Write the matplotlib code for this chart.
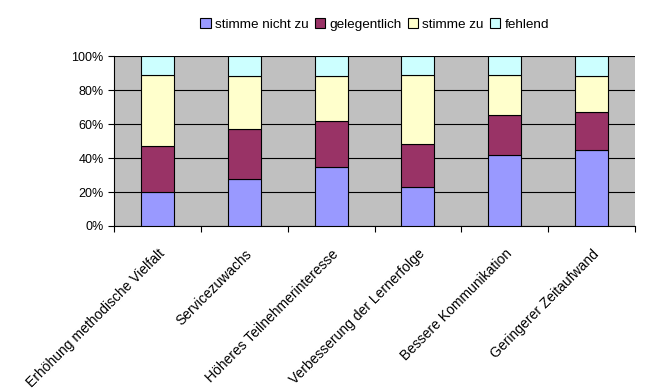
import numpy as np
import matplotlib.pyplot as plt

plt.rcParams['font.family'] = ['Liberation Sans', 'DejaVu Sans']

kategorien = ['Erhöhung methodische Vielfalt', 'Servicezuwachs',
              'Höheres Teilnehmerinteresse', 'Verbesserung der Lernerfolge',
              'Bessere Kommunikation', 'Geringerer Zeitaufwand']
stimme_nicht_zu = [20, 27.5, 34.5, 23, 41.5, 44.5]
gelegentlich = [27, 29.5, 27.5, 25.5, 24, 22.5]
stimme_zu = [42, 31, 26.5, 40.5, 23.5, 21.5]
fehlend = [11, 12, 11.5, 11, 11, 11.5]

serien = [('stimme nicht zu', stimme_nicht_zu, '#9999FF'),
          ('gelegentlich', gelegentlich, '#993366'),
          ('stimme zu', stimme_zu, '#FFFFCC'),
          ('fehlend', fehlend, '#CCFFFF')]

fig = plt.figure(figsize=(6.46, 3.92), dpi=100)
ax = fig.add_axes([0.1765, 0.4235, 0.8065, 0.4335])
ax.set_facecolor('#C0C0C0')

x = np.arange(len(kategorien))
unten = np.zeros(len(kategorien))
for name, werte, farbe in serien:
    ax.bar(x, werte, bottom=unten, width=0.38, color=farbe,
           edgecolor='black', linewidth=0.8, label=name, zorder=3)
    unten += np.array(werte)

ax.set_xlim(-0.5, len(kategorien) - 0.5)
ax.set_ylim(0, 100)
ax.set_yticks(range(0, 101, 20))
ax.set_yticklabels([f'{v}%' for v in range(0, 101, 20)], fontsize=9)
ax.yaxis.grid(True, color='black', linewidth=0.8, zorder=1)

# Ticks zwischen den Kategorien, Beschriftungen in der Mitte
ax.set_xticks(np.arange(-0.5, len(kategorien)), minor=False)
ax.set_xticklabels([])
ax.set_xticks(x, minor=True)
ax.set_xticklabels(kategorien, minor=True, rotation=45, ha='right',
                   rotation_mode='anchor', fontsize=10)
ax.tick_params(axis='x', which='minor', length=0, pad=15)
ax.tick_params(axis='both', which='major', direction='out', length=4,
               color='black')

for s in ['top', 'right']:
    ax.spines[s].set_visible(False)
for s in ['left', 'bottom']:
    ax.spines[s].set_color('black')

fig.legend(loc='upper center', bbox_to_anchor=(0.58, 0.985), ncol=4,
           frameon=False, fontsize=9.7, handlelength=0.75, handleheight=0.75,
           handletextpad=0.3, columnspacing=0.5)

fig.savefig('out.png', dpi=100)
